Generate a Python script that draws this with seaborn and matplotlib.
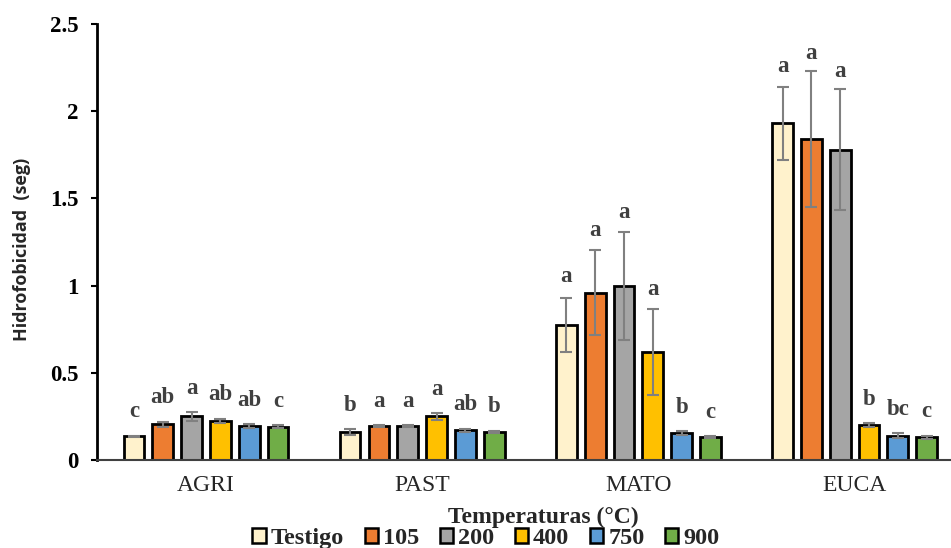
import matplotlib
matplotlib.use("Agg")
import matplotlib.pyplot as plt
import seaborn as sns
import pandas as pd
import numpy as np

usos = ["AGRI", "PAST", "MATO", "EUCA"]
temps = ["Testigo", "105", "200", "400", "750", "900"]

v_testigo = [0.135, 0.16, 0.775, 1.93]
v_105 = [0.205, 0.195, 0.96, 1.84]
v_200 = [0.25, 0.195, 1.00, 1.78]
v_400 = [0.225, 0.25, 0.62, 0.20]
v_750 = [0.195, 0.17, 0.155, 0.14]
v_900 = [0.19, 0.16, 0.13, 0.13]

e_testigo = [0.005, 0.015, 0.155, 0.21]
e_105 = [0.015, 0.005, 0.245, 0.39]
e_200 = [0.025, 0.005, 0.31, 0.345]
e_400 = [0.012, 0.02, 0.245, 0.012]
e_750 = [0.01, 0.008, 0.01, 0.015]
e_900 = [0.008, 0.008, 0.005, 0.008]

l_testigo = ["c", "b", "a", "a"]
l_105 = ["ab", "a", "a", "a"]
l_200 = ["a", "a", "a", "a"]
l_400 = ["ab", "a", "a", "b"]
l_750 = ["ab", "ab", "b", "bc"]
l_900 = ["c", "b", "c", "c"]

values = [v_testigo, v_105, v_200, v_400, v_750, v_900]
errors = [e_testigo, e_105, e_200, e_400, e_750, e_900]
letters = [l_testigo, l_105, l_200, l_400, l_750, l_900]
colors = ["#FFF2CC", "#ED7D31", "#A5A5A5", "#FFC000", "#5B9BD5", "#70AD47"]

rows = []
for t, vals in zip(temps, values):
    for u, v in zip(usos, vals):
        rows.append({"Uso": u, "Temp": t, "val": v})
df = pd.DataFrame(rows)

sns.set_theme(style="white")
plt.rcParams["font.family"] = ["Liberation Serif", "DejaVu Serif"]

fig = plt.figure(figsize=(9.51, 5.48), dpi=100)
ax = fig.add_axes([0.102, 0.1606, 0.898, 0.7956])

sns.barplot(data=df, x="Uso", y="val", hue="Temp", order=usos, hue_order=temps,
            palette=colors, edgecolor="black", linewidth=2, errorbar=None,
            width=0.8, gap=0.28, saturation=1, ax=ax)

bar_conts = list(ax.containers)
for i, cont in enumerate(bar_conts):
    xs = [b.get_x() + b.get_width() / 2 for b in cont]
    hs = [b.get_height() for b in cont]
    ax.errorbar(xs, hs, yerr=errors[i], fmt="none", ecolor="#808080",
                elinewidth=1.5, capsize=4, capthick=1.5, zorder=5)
    for x, h, e, lab in zip(xs, hs, errors[i], letters[i]):
        off = max(0.04, 0.078 - 0.1 * e)
        ax.text(x, h + e + off, lab, ha="center", va="bottom",
                fontsize=16.5, fontweight="bold", color="#404040",
                family=["Liberation Serif"])

ax.set_ylim(0, 2.5)
ax.set_xlim(-0.504, 3.446)
ax.set_yticks([0, 0.5, 1, 1.5, 2, 2.5])
ax.set_yticklabels(["0", "0.5", "1", "1.5", "2", "2.5"])
for lab in ax.get_yticklabels():
    lab.set_fontweight("bold")
    lab.set_fontsize(16.5)
for lab in ax.get_xticklabels():
    lab.set_fontsize(17)
ax.tick_params(axis="y", which="major", direction="out", length=4, width=1.5,
               left=True, pad=9, colors="black")
ax.tick_params(axis="x", length=0, pad=11)
ax.set_xlabel("")
ax.set_ylabel("Hidrofobicidad  (seg)", fontsize=13, fontweight="bold",
              family=["Open Sans", "DejaVu Sans"])
ax.yaxis.set_label_coords(-0.077, 0.482)

sns.despine(ax=ax, top=True, right=True)
ax.spines["left"].set_linewidth(2)
ax.spines["left"].set_color("black")
ax.spines["bottom"].set_linewidth(1.5)
ax.spines["bottom"].set_color("#404040")
ax.grid(False)

fig.text(0.571, 0.0456, "Temperaturas (°C)", ha="center", va="baseline",
         fontsize=17, fontweight="bold")

sns.move_legend(ax, "center", bbox_to_anchor=(0.511, 0.017),
                bbox_transform=fig.transFigure, ncol=6,
                frameon=False, title=None, handlelength=0.55, handleheight=0.55,
                handletextpad=0.2, columnspacing=0.85, borderpad=0,
                prop={"weight": "bold", "size": 17.5})
leg = ax.get_legend()
for h in leg.legend_handles:
    h.set_edgecolor("black")
    h.set_linewidth(1.8)

fig.savefig("out.png", dpi=100)
